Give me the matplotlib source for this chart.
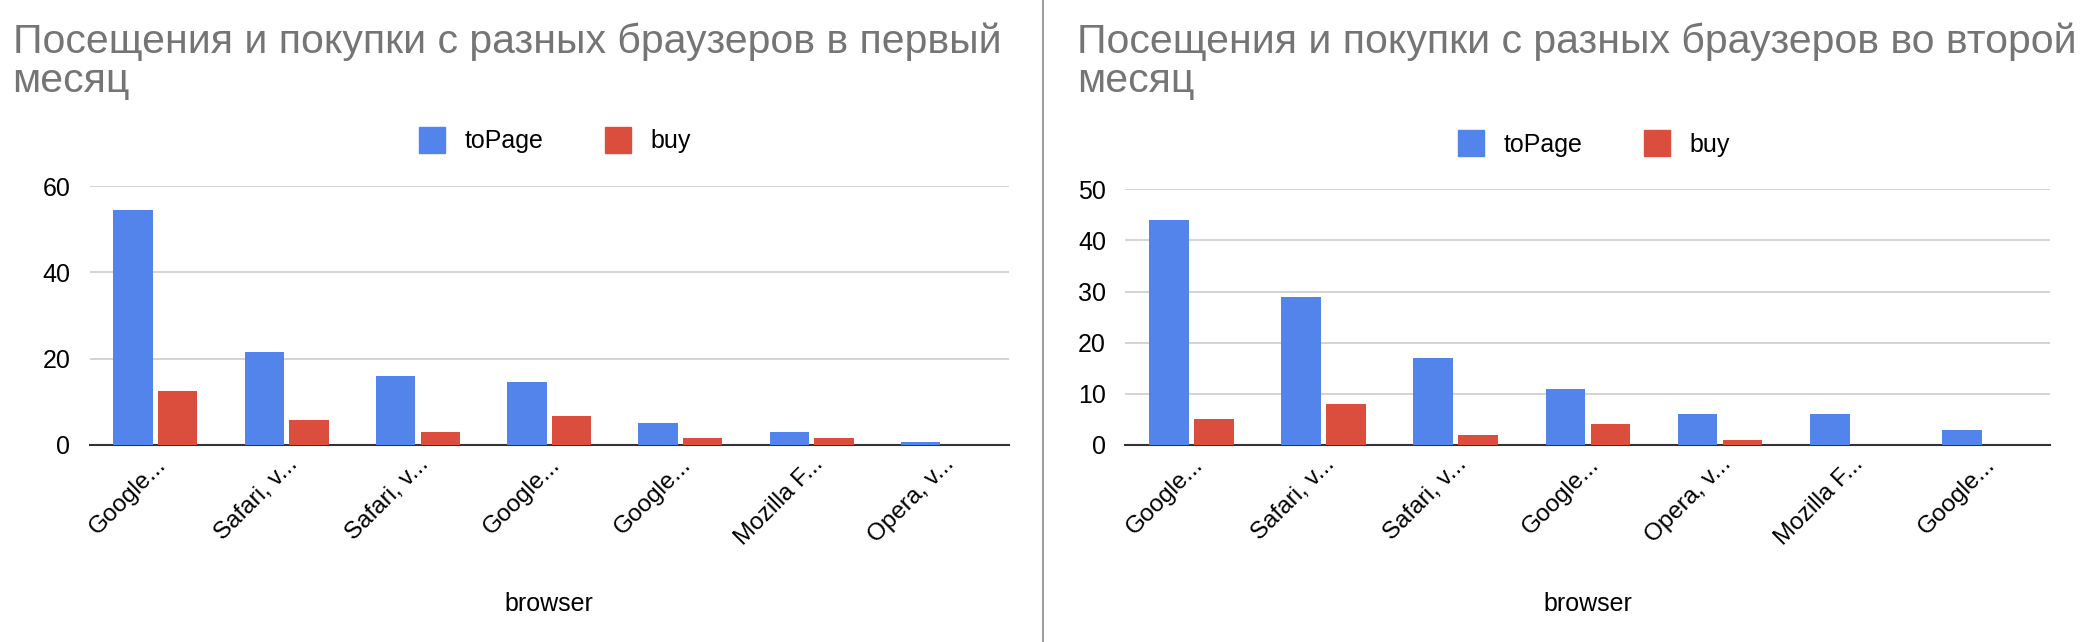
import matplotlib
matplotlib.use('Agg')
import matplotlib.pyplot as plt
from matplotlib.lines import Line2D
import numpy as np

plt.rcParams['font.family'] = ['Liberation Sans', 'DejaVu Sans']

labels_1 = ["Google...", "Safari, v...", "Safari, v...", "Google...", "Google...", "Mozilla F...", "Opera, v..."]
topage_1 = [54.5, 21.5, 16, 14.5, 5, 3, 0.7]
buy_1 = [12.5, 5.8, 3, 6.6, 1.5, 1.5, 0]

labels_2 = ["Google...", "Safari, v...", "Safari, v...", "Google...", "Opera, v...", "Mozilla F...", "Google..."]
topage_2 = [44, 29, 17, 11, 6, 6, 3]
buy_2 = [5, 8, 2, 4, 1, 0, 0]

BLUE = '#5384EC'
RED = '#DB4E3E'

fig = plt.figure(figsize=(20.88, 6.42), dpi=100)
fig.patch.set_facecolor('white')

def draw(rect, labels, tp, buy, ymax, step, title, tx):
    ax = fig.add_axes(rect)
    x = np.arange(len(labels))
    w = 0.3
    ax.bar(x - w / 2 - 0.02, tp, w, color=BLUE, zorder=3)
    ax.bar(x + w / 2 + 0.02, buy, w, color=RED, zorder=3)
    ax.set_xlim(-0.5, len(labels) - 0.5)
    ax.set_ylim(0, ymax)
    ax.set_yticks(np.arange(0, ymax + 1, step))
    ax.yaxis.grid(True, color='#CCCCCC', lw=1.2, zorder=0)
    ax.tick_params(axis='y', length=0, labelsize=18, pad=14)
    ax.tick_params(axis='x', length=0, labelsize=17.5, pad=6)
    ax.set_xticks(x)
    ax.set_xticklabels(labels, rotation=45, ha='right', rotation_mode='anchor')
    for s in ['top', 'right', 'left']:
        ax.spines[s].set_visible(False)
    ax.spines['bottom'].set_color('#333333')
    ax.spines['bottom'].set_linewidth(1.5)
    ax.set_xlabel('browser', fontsize=18, labelpad=30)
    fig.text(tx, 0.965, title, fontsize=29.5, color='#757575', va='top', ha='left', linespacing=1.05)
    handles = [Line2D([], [], marker='s', ls='', color=BLUE, markersize=19),
               Line2D([], [], marker='s', ls='', color=RED, markersize=19)]
    ax.legend(handles, ['toPage', 'buy'], loc='lower center', bbox_to_anchor=(0.5, 1.04),
              ncol=2, frameon=False, fontsize=18, handletextpad=0.3, columnspacing=2.0)
    return ax

draw([0.043, 0.307, 0.44, 0.403], labels_1, topage_1, buy_1, 60, 20,
     "Посещения и покупки с разных браузеров в первый\nмесяц", 0.006)
draw([0.539, 0.307, 0.443, 0.398], labels_2, topage_2, buy_2, 50, 10,
     "Посещения и покупки с разных браузеров во второй\nмесяц", 0.516)

fig.add_artist(Line2D([0.4995, 0.4995], [0, 1], color='#9E9E9E', lw=1.5))

plt.savefig('out.png', dpi=100, facecolor='white')
